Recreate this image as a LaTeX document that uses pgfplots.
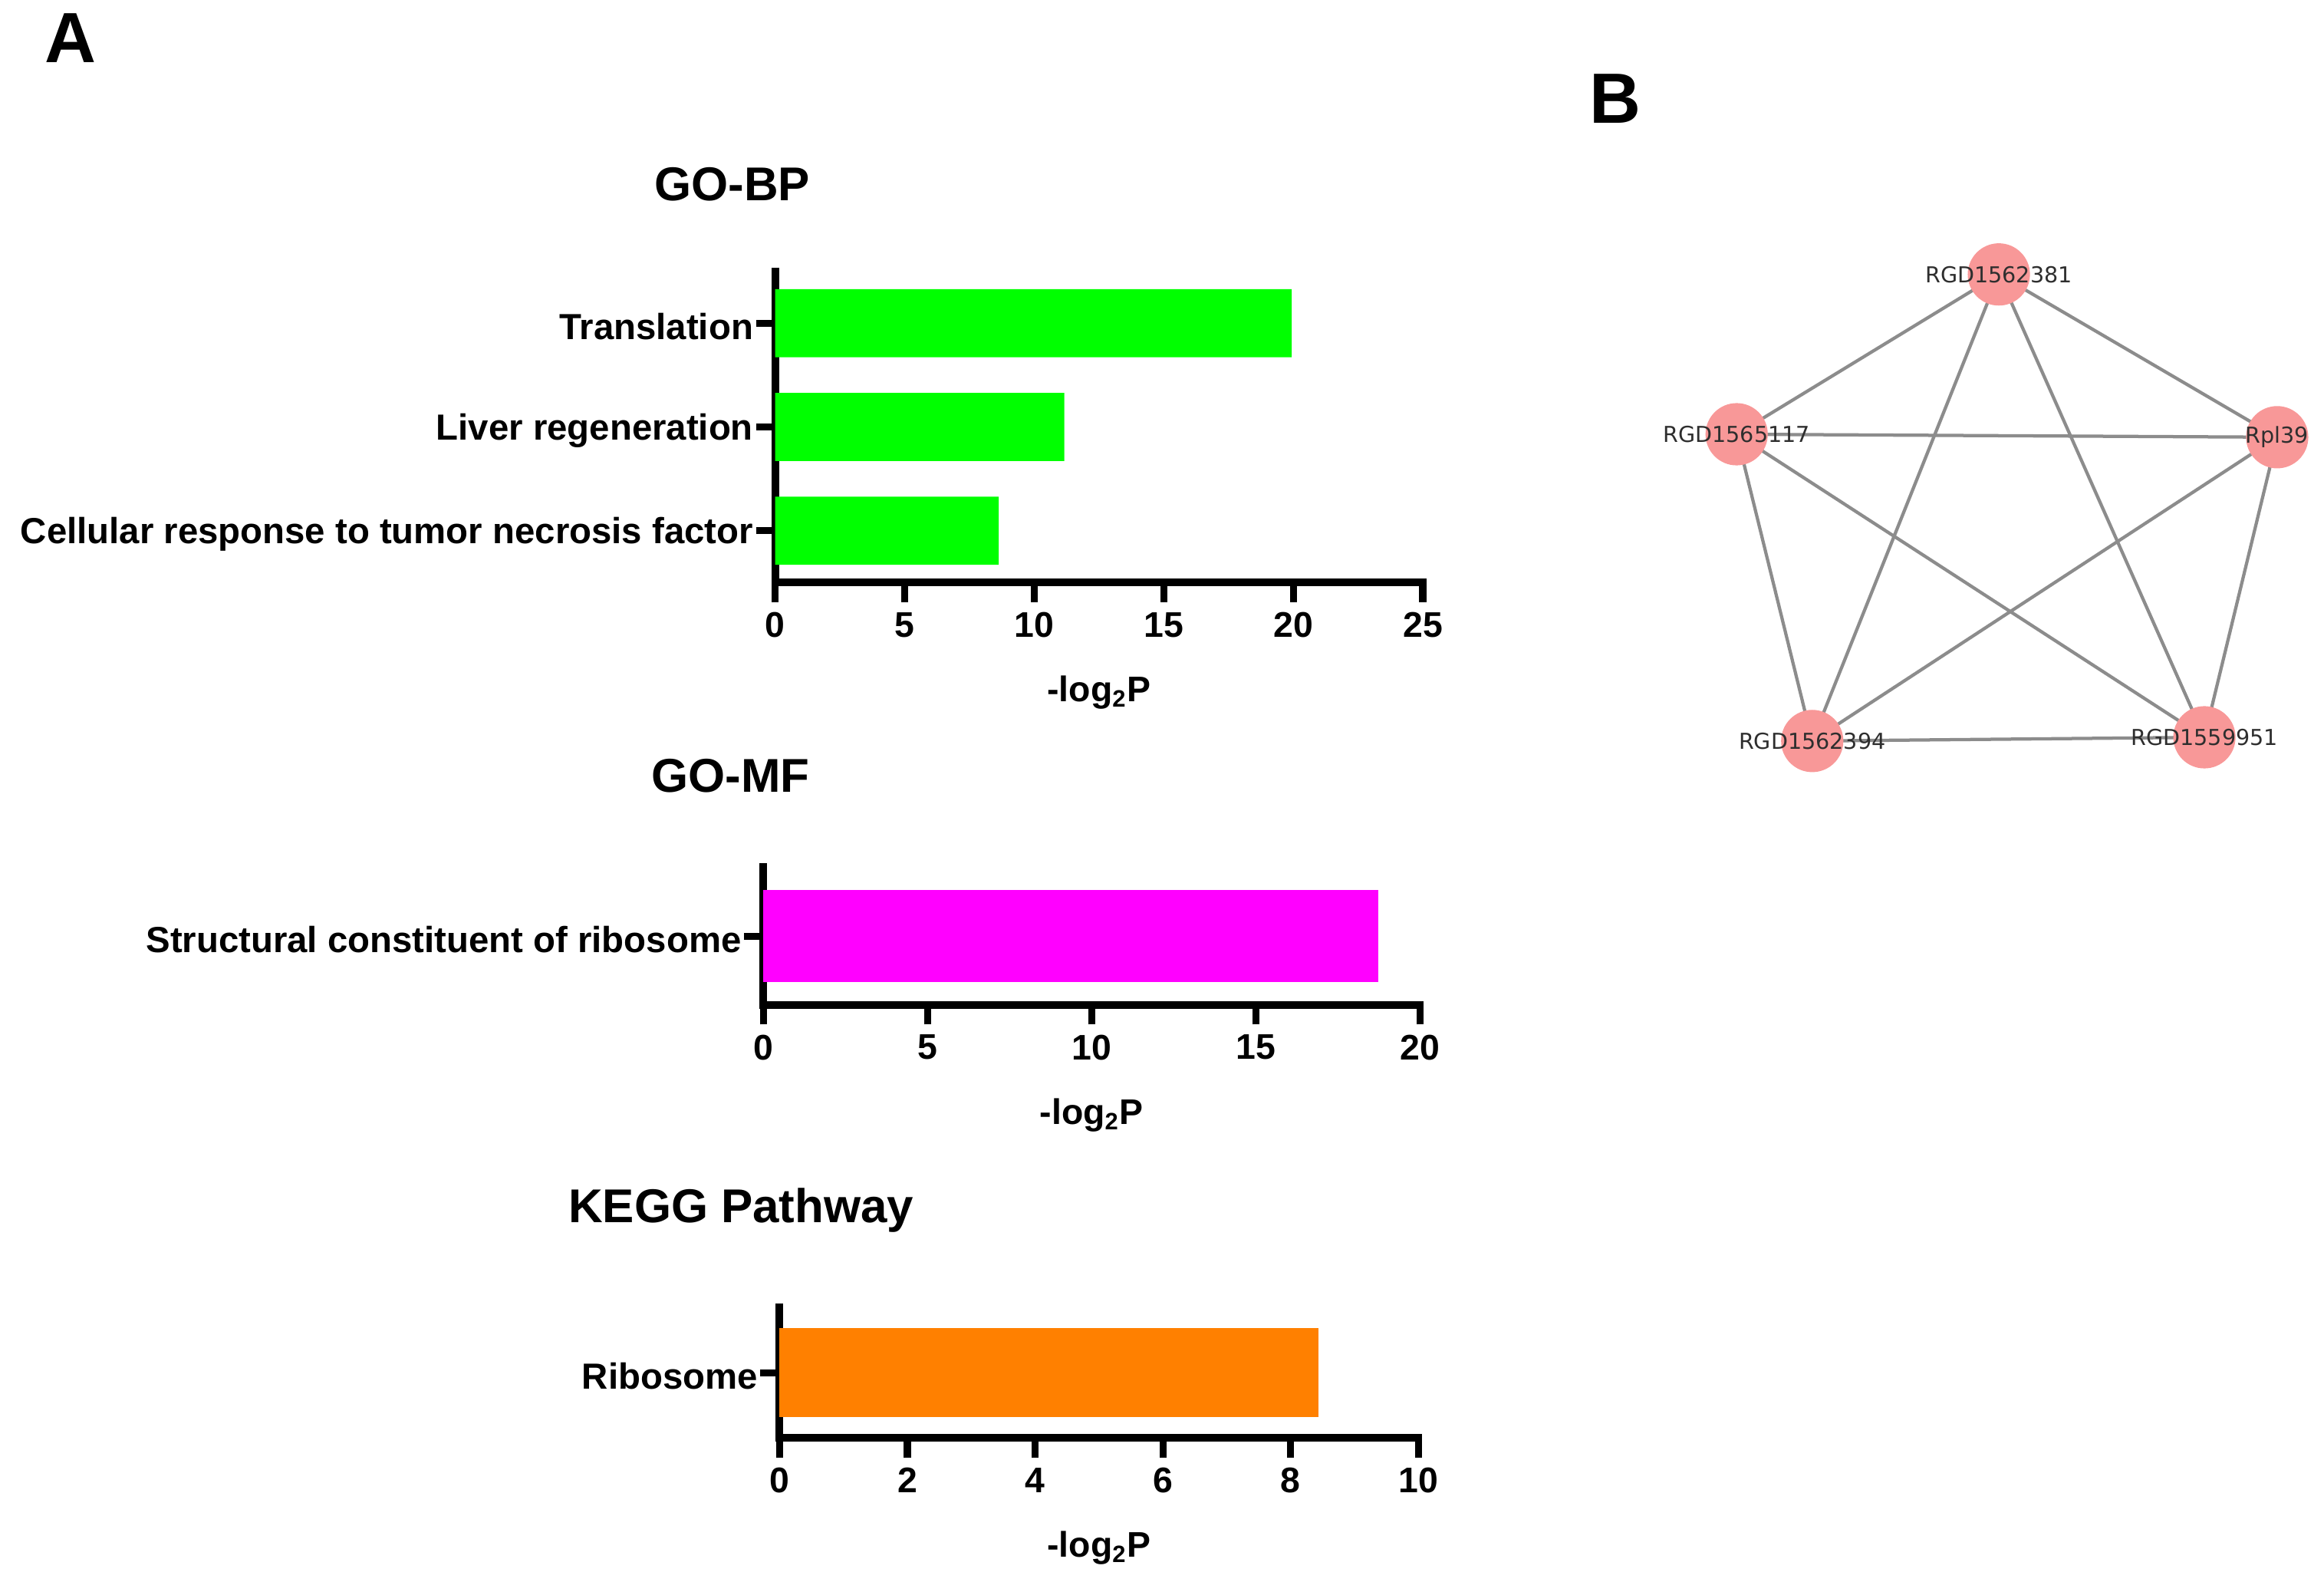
\documentclass[border=0pt]{standalone}
\usepackage{fontspec}
\setmainfont{Liberation Sans}
\newfontfamily\netfont{DejaVu Sans}
\usepackage{pgfplots}
\pgfplotsset{compat=1.18}

\definecolor{bpgreen}{RGB}{0,255,0}
\definecolor{mfmagenta}{RGB}{255,0,255}
\definecolor{keggorange}{RGB}{255,128,0}
\definecolor{nodepink}{RGB}{248,152,152}
\definecolor{edgegray}{RGB}{140,140,140}

% shared look of the three enrichment panels
\pgfplotsset{
  enrich/.style={
    scale only axis,
    anchor=south west,
    xbar, bar shift=0pt,
    axis x line*=bottom, axis y line*=left,
    axis line style={-, line width=2.6pt, line cap=rect},
    tick align=outside,
    major tick length=6.5pt,
    tick style={black, line width=2.4pt},
    minor tick num=0,
    xticklabel style={font=\fontsize{12}{14}\selectfont\bfseries},
    yticklabel style={font=\fontsize{12.25}{14}\selectfont\bfseries, xshift=2.6pt, yshift=-1.2pt},
    /pgf/number format/assume math mode=true,
    xmin=0, y dir=reverse,
    xlabel={-log\textsubscript{2}P},
    xlabel style={font=\fontsize{12}{14}\selectfont\bfseries, yshift=-6pt},
    clip=false,
  }
}

\begin{document}
\begin{tikzpicture}
\useasboundingbox (0,0) rectangle (784pt,533.5pt);

% panel letters and titles
\node[anchor=base, font=\fontsize{24}{28}\selectfont\bfseries] at (23.7pt,512.5pt) {A};
\node[anchor=base, font=\fontsize{24}{28}\selectfont\bfseries] at (545pt,492pt) {B};
\node[anchor=base, font=\fontsize{16}{19}\selectfont\bfseries] at (247pt,465.75pt) {GO-BP};
\node[anchor=base, font=\fontsize{16}{19}\selectfont\bfseries] at (246.5pt,266.25pt) {GO-MF};
\node[anchor=base, font=\fontsize{16}{19}\selectfont\bfseries] at (250pt,121.25pt) {KEGG Pathway};

% GO-BP
\begin{axis}[enrich,
  at={(261.5pt,337pt)}, width=218.5pt, height=105pt,
  xmax=25, xtick={0,5,...,25},
  ymin=-0.5, ymax=2.5, ytick={0,1,2},
  yticklabels={Translation, Liver regeneration, Cellular response to tumor necrosis factor},
  bar width=23pt]
\addplot[fill=bpgreen, draw=none] coordinates {(19.94,0) (11.16,1) (8.63,2)};
\end{axis}

% GO-MF
\begin{axis}[enrich,
  at={(257.5pt,194.5pt)}, width=221.5pt, height=46.5pt,
  xmax=20, xtick={0,5,...,20},
  ymin=-0.5, ymax=0.5, ytick={0},
  yticklabels={Structural constituent of ribosome},
  bar width=31pt]
\addplot[fill=mfmagenta, draw=none] coordinates {(18.73,0)};
\end{axis}

% KEGG
\begin{axis}[enrich,
  at={(263pt,48.5pt)}, width=215.5pt, height=44pt,
  xmax=10, xtick={0,2,...,10},
  ymin=-0.5, ymax=0.5, ytick={0},
  yticklabels={Ribosome},
  bar width=30pt]
\addplot[fill=keggorange, draw=none] coordinates {(8.43,0)};
\end{axis}

% B: interaction network
\begin{axis}[
  at={(550pt,263.5pt)}, anchor=south west,
  scale only axis, width=234pt, height=195pt,
  xmin=1100, xmax=1568, ymin=150, ymax=540, y dir=reverse,
  hide axis, clip=false]
\addplot[edgegray, line width=1.1pt, no marks, unbounded coords=jump] coordinates {
  (1348.6,185.1) (1171.7,292.9) (nan,nan)
  (1348.6,185.1) (1536.4,294.9) (nan,nan)
  (1348.6,185.1) (1222.7,499.8) (nan,nan)
  (1348.6,185.1) (1487.3,497.3) (nan,nan)
  (1171.7,292.9) (1536.4,294.9) (nan,nan)
  (1171.7,292.9) (1222.7,499.8) (nan,nan)
  (1171.7,292.9) (1487.3,497.3) (nan,nan)
  (1536.4,294.9) (1222.7,499.8) (nan,nan)
  (1536.4,294.9) (1487.3,497.3) (nan,nan)
  (1222.7,499.8) (1487.3,497.3)
};
\addplot[nodepink, only marks, mark=*, mark size=10.3pt,
  mark options={fill=nodepink, draw=nodepink},
  nodes near coords, point meta=explicit symbolic,
  nodes near coords align={center},
  every node near coord/.append style={font=\netfont\fontsize{7.4}{8}\selectfont, text=black!82}]
  coordinates {
  (1348.6,185.1) [RGD1562381]
  (1171.7,292.9) [RGD1565117]
  (1536.4,294.9) [Rpl39]
  (1222.7,499.8) [RGD1562394]
  (1487.3,497.3) [RGD1559951]
};
\end{axis}
\end{tikzpicture}
\end{document}
